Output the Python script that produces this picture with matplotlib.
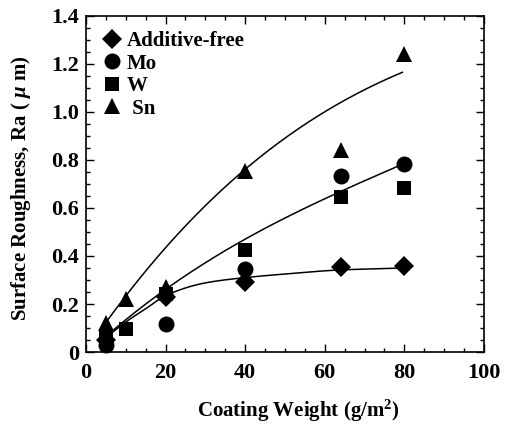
import numpy as np
import matplotlib
matplotlib.use("Agg")
import matplotlib.pyplot as plt
from matplotlib.ticker import MultipleLocator

plt.rcParams['font.family'] = ['Liberation Serif', 'DejaVu Serif']
plt.rcParams['font.weight'] = 'bold'
plt.rcParams['mathtext.fontset'] = 'custom'
plt.rcParams['mathtext.rm'] = 'Liberation Serif:bold'
plt.rcParams['mathtext.it'] = 'Liberation Serif:bold:italic'

# Measured roughness (Ra, um) versus coating weight (g/m2)
w_free = [5, 20, 40, 64, 80]
ra_free = [0.05, 0.23, 0.29, 0.355, 0.36]
w_mo = [5, 20, 40, 64, 80]
ra_mo = [0.03, 0.115, 0.345, 0.735, 0.785]
w_w = [5, 10, 20, 40, 64, 80]
ra_w = [0.06, 0.095, 0.24, 0.425, 0.645, 0.685]
w_sn = [5, 10, 20, 40, 64, 80]
ra_sn = [0.12, 0.22, 0.27, 0.755, 0.84, 1.24]

# Trend curves (knots along each fitted line)
trend_x = [5, 10, 15, 20, 30, 40, 50, 64, 80]
trend_free = [0.06, 0.125, 0.18, 0.235, 0.288, 0.31, 0.325, 0.342, 0.35]
trend_mix = [0.06, 0.14, 0.20, 0.265, 0.365, 0.47, 0.56, 0.67, 0.785]
trend_sn_x = [5, 10, 16, 20, 30, 40, 50, 66, 80]
trend_sn = [0.12, 0.235, 0.36, 0.44, 0.60, 0.765, 0.89, 1.06, 1.168]

series_labels = ['Additive-free', 'Mo', 'W', ' Sn']


def smooth_fit(xk, yk, xs, deg):
    """Least-squares polynomial through the trend knots."""
    c = np.polyfit(xk, yk, deg)
    return np.polyval(c, xs)


def pchip(xk, yk, xs):
    """Monotone piecewise cubic Hermite interpolation."""
    xk = np.asarray(xk, float)
    yk = np.asarray(yk, float)
    h = np.diff(xk)
    d = np.diff(yk) / h
    m = np.zeros_like(yk)
    for i in range(1, len(xk) - 1):
        if d[i - 1] * d[i] > 0:
            w1 = 2 * h[i] + h[i - 1]
            w2 = h[i] + 2 * h[i - 1]
            m[i] = (w1 + w2) / (w1 / d[i - 1] + w2 / d[i])
    m[0] = d[0]
    m[-1] = d[-1]
    idx = np.clip(np.searchsorted(xk, xs) - 1, 0, len(h) - 1)
    t = (xs - xk[idx]) / h[idx]
    h00 = 2 * t**3 - 3 * t**2 + 1
    h10 = t**3 - 2 * t**2 + t
    h01 = -2 * t**3 + 3 * t**2
    h11 = t**3 - t**2
    return (h00 * yk[idx] + h10 * h[idx] * m[idx]
            + h01 * yk[idx + 1] + h11 * h[idx] * m[idx + 1])


fig = plt.figure(figsize=(5.07, 4.24), dpi=100)
ax = fig.add_axes([0.1696, 0.1698, 0.785, 0.7925])

xs = np.linspace(5, 80, 300)
ax.plot(xs, pchip(trend_x, trend_free, xs), color='black', lw=1.1)
ax.plot(xs, smooth_fit(trend_x, trend_mix, xs, 3), color='black', lw=1.1)
xs_sn = np.linspace(5, 79.5, 300)
ax.plot(xs_sn, smooth_fit(trend_sn_x, trend_sn, xs_sn, 3), color='black', lw=1.1)

h1, = ax.plot(w_free, ra_free, 'D', color='black', ms=10.5, mew=0, clip_on=False)
h2, = ax.plot(w_mo, ra_mo, 'o', color='black', ms=11.5, mew=0, clip_on=False)
h3, = ax.plot(w_w, ra_w, 's', color='black', ms=9.5, mew=0, clip_on=False)
h4, = ax.plot(w_sn, ra_sn, '^', color='black', ms=11, mew=0, clip_on=False)

ax.set_xlim(0, 100)
ax.set_ylim(0, 1.4)
ax.xaxis.set_major_locator(MultipleLocator(20))
ax.xaxis.set_minor_locator(MultipleLocator(5))
ax.yaxis.set_minor_locator(MultipleLocator(0.05))
ax.set_yticks([0, 0.2, 0.4, 0.6, 0.8, 1.0, 1.2, 1.4])
ax.set_yticklabels(['0', '0.2', '0.4', '0.6', '0.8', '1.0', '1.2', '1.4'])
ax.tick_params(which='both', direction='in', top=True, right=True, width=1)
ax.tick_params(which='major', length=6)
ax.tick_params(which='minor', length=3)
ax.tick_params(axis='x', which='major', pad=8, labelsize=16)
ax.tick_params(axis='y', which='major', pad=5, labelsize=16)
for s in ax.spines.values():
    s.set_linewidth(1.2)

ax.set_xlabel('Coating Weight (g/m$^{2}$)', fontsize=15, fontweight='bold')
ax.xaxis.set_label_coords(0.533, -0.135)
ax.set_ylabel('Surface Roughness, Ra ( $\\mathit{\\mu}$ m)', fontsize=15,
              fontweight='bold')
ax.yaxis.set_label_coords(-0.133, 0.488)

ax.legend([h1, h2, h3, h4], series_labels, loc='upper left',
          bbox_to_anchor=(0.043, 0.955), frameon=False, fontsize=15,
          handlelength=0.9, handletextpad=0.25, labelspacing=0.12,
          borderpad=0, borderaxespad=0, markerscale=1.0)

fig.savefig('out.png', dpi=100, facecolor='white')
